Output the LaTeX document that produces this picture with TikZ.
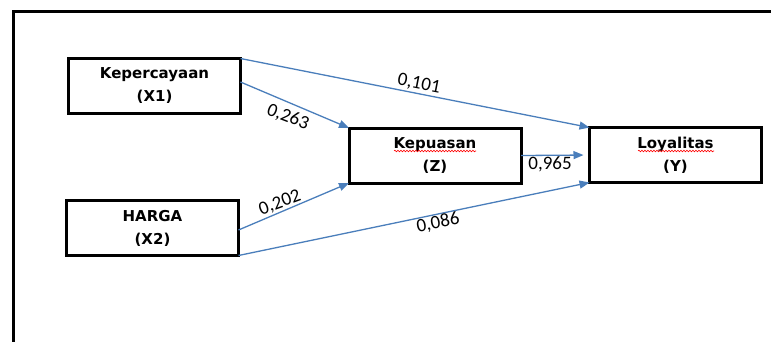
\documentclass[tikz,border=0pt]{standalone}
\usepackage{fontspec}
\usetikzlibrary{arrows.meta,calc,decorations.pathmorphing}
\newfontfamily\boxfont{DejaVu Sans}
\newfontfamily\numfont{Carlito}
\definecolor{pathblue}{HTML}{4A7EBB}
\tikzset{
  varbox/.style={draw=black, line width=3pt, minimum width=172pt, minimum height=55pt,
    inner sep=0pt, outer sep=0pt, align=center,
    font=\boxfont\bfseries\fontsize{15}{23}\selectfont},
  path arrow/.style={draw=pathblue, line width=1.3pt,
    -{Triangle[length=10pt,width=8pt]}},
  coef/.style={font=\numfont\fontsize{19}{19}\selectfont, inner sep=0pt},
  spell/.style={draw=red, line width=0.6pt, decorate,
    decoration={snake, amplitude=0.8pt, segment length=3pt}}
}
\begin{document}
\begin{tikzpicture}[x=1pt,y=-1pt]
  \useasboundingbox (0,0) rectangle (771,341);
  % outer frame, running off the right and bottom edges
  \draw[line width=3pt] (13,360) -- (13,11) -- (790,11);

  % variables
  \node[varbox] (x1) at (154.5,86)  {Kepercayaan\\(X1)};
  \node[varbox] (x2) at (152.5,228) {HARGA\\(X2)};
  \node[varbox] (z)  at (435,155.5) {Kepuasan\\(Z)};
  \node[varbox] (y)  at (675.5,155) {Loyalitas\\(Y)};

  % spell-check underlines
  \draw[spell] (394,151) -- (476,151);
  \draw[spell] (638,151) -- (714,151);

  % paths
  \draw[path arrow] (x1.north east) -- (y.north west);
  \draw[path arrow] ([yshift=4pt]x1.east) -- (z.north west);
  \draw[path arrow] ([yshift=-2pt]x2.east) -- (z.south west);
  \draw[path arrow] (x2.south east) -- (y.south west);
  \draw[path arrow, shorten >=6pt] (z.east) -- (y.west);

  % path coefficients
  \node[coef, rotate=-11] (c1) at (419,84)  {0,101};
  \node[coef, rotate=-21] (c2) at (288,117) {0,263};
  \node[coef, rotate=20]  (c3) at (280,203) {0,202};
  \node[coef, rotate=11]  (c4) at (438,223) {0,086};
  \node[coef]             (c5) at (550,164) {0,965};
\end{tikzpicture}
\end{document}
